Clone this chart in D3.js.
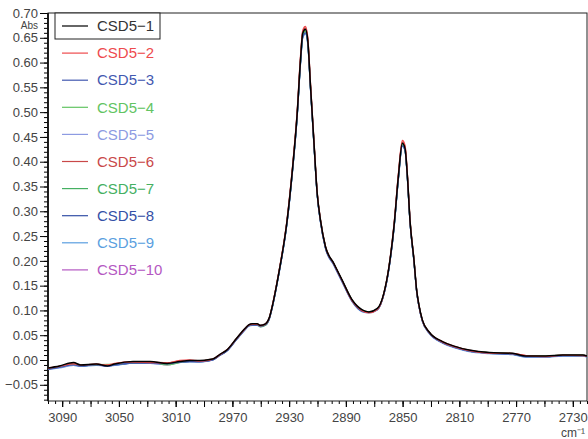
<!DOCTYPE html>
<html>
<head>
<meta charset="utf-8">
<script src="https://cdnjs.cloudflare.com/ajax/libs/d3/7.8.5/d3.min.js"></script>
<style>
  body { margin: 0; background: #fff; }
  text { font-family: "Liberation Sans", Arial, sans-serif; }
</style>
</head>
<body>
<svg id="chart" width="588" height="439"></svg>
<script>
// wavenumbers (cm-1), descending
const wavenumbers = [3100,3092,3082,3077,3066,3058,3053,3040,3028,3016,3007,3000,2993,2986,2983,2979,2974,2967,2961,2958.5,2956,2952.5,2950.3,2946.7,2944,2942,2940,2937.3,2931.4,2927.9,2924.3,2922,2920.4,2918.5,2916.9,2914.9,2912.6,2910.2,2907.9,2904.4,2898.5,2892.6,2885.5,2878.4,2873.8,2867.8,2863.2,2859.6,2856.1,2853,2850.2,2848.3,2846.6,2844.8,2842,2840.1,2838.5,2836.1,2831.4,2821.9,2812.5,2803.1,2789,2772.5,2763,2749,2737,2723,2720];

const csd1 = [-0.016,-0.012,-0.005,-0.010,-0.008,-0.012,-0.008,-0.003,-0.003,-0.007,-0.003,-0.001,-0.001,0.001,0.003,0.011,0.020,0.044,0.064,0.071,0.073,0.073,0.070,0.073,0.085,0.107,0.134,0.175,0.282,0.377,0.498,0.605,0.659,0.667,0.646,0.551,0.444,0.336,0.282,0.229,0.195,0.161,0.121,0.101,0.097,0.104,0.135,0.188,0.269,0.370,0.437,0.427,0.370,0.282,0.202,0.141,0.111,0.081,0.057,0.037,0.027,0.020,0.015,0.0135,0.008,0.008,0.010,0.010,0.008];
const csd2 = [-0.017,-0.013,-0.008,-0.010,-0.009,-0.010,-0.007,-0.004,-0.005,-0.006,-0.001,0.000,-0.002,0.000,0.003,0.010,0.020,0.043,0.063,0.070,0.072,0.072,0.069,0.072,0.085,0.108,0.135,0.177,0.285,0.381,0.503,0.612,0.665,0.673,0.652,0.556,0.447,0.338,0.283,0.229,0.194,0.160,0.119,0.099,0.095,0.102,0.134,0.189,0.272,0.375,0.443,0.433,0.374,0.284,0.203,0.141,0.110,0.080,0.056,0.036,0.026,0.019,0.014,0.013,0.009,0.007,0.010,0.009,0.008];
const csd3 = [-0.019,-0.015,-0.010,-0.012,-0.010,-0.012,-0.010,-0.006,-0.006,-0.008,-0.004,-0.003,-0.003,-0.001,0.001,0.009,0.018,0.042,0.062,0.069,0.071,0.071,0.068,0.071,0.083,0.105,0.132,0.173,0.279,0.373,0.493,0.598,0.651,0.660,0.640,0.546,0.440,0.333,0.279,0.226,0.192,0.158,0.118,0.098,0.096,0.102,0.133,0.185,0.265,0.365,0.432,0.423,0.366,0.279,0.199,0.139,0.109,0.079,0.055,0.035,0.025,0.018,0.014,0.012,0.007,0.007,0.009,0.009,0.007];
const csd4 = [-0.018,-0.014,-0.009,-0.011,-0.010,-0.009,-0.009,-0.005,-0.004,-0.010,-0.005,-0.002,-0.002,0.000,0.002,0.010,0.019,0.043,0.063,0.070,0.072,0.072,0.067,0.070,0.084,0.106,0.133,0.174,0.281,0.375,0.496,0.602,0.655,0.663,0.643,0.549,0.442,0.335,0.281,0.228,0.194,0.160,0.120,0.100,0.097,0.103,0.134,0.187,0.267,0.367,0.434,0.425,0.368,0.281,0.201,0.140,0.110,0.080,0.056,0.036,0.026,0.019,0.015,0.013,0.008,0.008,0.010,0.010,0.008];
const csd5 = [-0.018,-0.015,-0.011,-0.012,-0.009,-0.011,-0.010,-0.005,-0.006,-0.008,-0.004,-0.002,-0.003,0.000,0.002,0.010,0.019,0.043,0.063,0.070,0.072,0.072,0.069,0.072,0.084,0.106,0.133,0.174,0.280,0.374,0.494,0.600,0.653,0.661,0.641,0.548,0.441,0.334,0.280,0.227,0.193,0.159,0.119,0.099,0.096,0.102,0.133,0.186,0.266,0.366,0.433,0.424,0.367,0.280,0.200,0.139,0.109,0.079,0.055,0.035,0.025,0.018,0.014,0.012,0.007,0.007,0.009,0.009,0.007];
const csd6 = [-0.016,-0.013,-0.007,-0.011,-0.008,-0.011,-0.008,-0.004,-0.004,-0.006,-0.002,-0.001,-0.002,0.001,0.003,0.011,0.020,0.044,0.064,0.071,0.073,0.073,0.070,0.073,0.085,0.107,0.135,0.176,0.283,0.379,0.500,0.608,0.662,0.670,0.649,0.553,0.445,0.337,0.282,0.229,0.194,0.160,0.120,0.100,0.096,0.103,0.135,0.188,0.270,0.372,0.440,0.430,0.372,0.283,0.202,0.141,0.111,0.081,0.057,0.037,0.027,0.020,0.015,0.0135,0.009,0.008,0.010,0.010,0.008];
const csd7 = [-0.017,-0.014,-0.009,-0.010,-0.009,-0.010,-0.009,-0.005,-0.005,-0.009,-0.004,-0.002,-0.002,0.000,0.002,0.010,0.019,0.043,0.063,0.070,0.072,0.072,0.068,0.071,0.084,0.106,0.134,0.175,0.281,0.376,0.497,0.603,0.656,0.664,0.644,0.550,0.443,0.335,0.281,0.228,0.194,0.160,0.120,0.100,0.097,0.103,0.134,0.187,0.268,0.368,0.435,0.426,0.369,0.281,0.201,0.140,0.110,0.080,0.056,0.036,0.026,0.019,0.015,0.012,0.008,0.008,0.010,0.009,0.008];
const csd8 = [-0.018,-0.014,-0.010,-0.012,-0.010,-0.012,-0.010,-0.006,-0.005,-0.008,-0.004,-0.003,-0.003,-0.001,0.001,0.009,0.018,0.042,0.062,0.069,0.071,0.071,0.068,0.071,0.083,0.105,0.132,0.173,0.279,0.374,0.494,0.600,0.653,0.662,0.642,0.548,0.441,0.334,0.280,0.227,0.193,0.159,0.119,0.099,0.096,0.102,0.133,0.186,0.266,0.366,0.434,0.424,0.367,0.280,0.200,0.139,0.109,0.079,0.055,0.035,0.025,0.018,0.014,0.012,0.007,0.007,0.009,0.009,0.007];
const csd9 = [-0.019,-0.016,-0.011,-0.013,-0.011,-0.012,-0.011,-0.006,-0.007,-0.009,-0.005,-0.003,-0.004,-0.001,0.001,0.009,0.018,0.041,0.061,0.068,0.070,0.070,0.067,0.070,0.082,0.104,0.131,0.172,0.278,0.372,0.492,0.597,0.650,0.658,0.638,0.545,0.439,0.332,0.278,0.225,0.191,0.157,0.117,0.097,0.095,0.101,0.132,0.184,0.264,0.364,0.431,0.422,0.365,0.278,0.198,0.138,0.108,0.078,0.054,0.034,0.024,0.017,0.013,0.011,0.006,0.006,0.008,0.008,0.006];
const csd10 = [-0.018,-0.014,-0.010,-0.011,-0.010,-0.013,-0.009,-0.005,-0.006,-0.010,-0.004,-0.002,-0.003,0.000,0.002,0.010,0.019,0.043,0.063,0.070,0.072,0.072,0.069,0.072,0.084,0.106,0.134,0.175,0.282,0.377,0.498,0.604,0.657,0.665,0.645,0.550,0.443,0.335,0.281,0.228,0.194,0.160,0.120,0.100,0.097,0.103,0.134,0.187,0.268,0.369,0.436,0.426,0.369,0.281,0.201,0.140,0.110,0.080,0.056,0.036,0.026,0.019,0.015,0.013,0.008,0.008,0.010,0.010,0.008];

const seriesNames = ["CSD5\u22121","CSD5\u22122","CSD5\u22123","CSD5\u22124","CSD5\u22125","CSD5\u22126","CSD5\u22127","CSD5\u22128","CSD5\u22129","CSD5\u221210"];
const seriesValues = [csd1, csd2, csd3, csd4, csd5, csd6, csd7, csd8, csd9, csd10];
const seriesColors = ["#000000","#ee4a4d","#4258b0","#62c462","#8d9be2","#c94848","#45b062","#3450a6","#5b9fe0","#b458c2"];

const yMajorTicks = [-0.05,0,0.05,0.10,0.15,0.20,0.25,0.30,0.35,0.40,0.45,0.50,0.55,0.60,0.65,0.70];
const xLabelTicks = [3090,3050,3010,2970,2930,2890,2850,2810,2770,2730];

const svg = d3.select("#chart"),
      m = {left: 48, top: 13, right: 587, bottom: 401};

const x = d3.scaleLinear().domain([3100, 2720]).range([m.left, m.right]),
      y = d3.scaleLinear().domain([-0.0827, 0.70]).range([m.bottom, m.top]);

const fmtY = v => (v < 0 ? "\u2212" : "") + Math.abs(v).toFixed(2);

svg.append("clipPath").attr("id", "clip")
  .append("rect")
  .attr("x", m.left).attr("y", m.top)
  .attr("width", m.right - m.left).attr("height", m.bottom - m.top);

// y axis: minor ticks every 0.01, majors every 0.05
const yMinor = d3.range(-8, 71).map(d => d / 100);
svg.append("g")
  .attr("transform", `translate(${m.left},0)`)
  .call(d3.axisLeft(y).tickValues(yMinor).tickSize(4).tickFormat(""))
  .call(g => g.select(".domain").remove());

svg.append("g")
  .attr("transform", `translate(${m.left},0)`)
  .call(d3.axisLeft(y).tickValues(yMajorTicks).tickSize(8).tickPadding(2).tickFormat(fmtY))
  .call(g => g.select(".domain").remove())
  .call(g => g.selectAll("text").attr("fill", "#444").style("font-size", "13px"));

// x axis: minor every 5, medium every 20, labels every 40
const xMinor = d3.range(2720, 3101, 5);
const xMid = d3.range(2730, 3101, 20);
svg.append("g")
  .attr("transform", `translate(0,${m.bottom})`)
  .call(d3.axisBottom(x).tickValues(xMinor).tickSize(3).tickFormat(""))
  .call(g => g.select(".domain").remove());

svg.append("g")
  .attr("transform", `translate(0,${m.bottom})`)
  .call(d3.axisBottom(x).tickValues(xMid).tickSize(6).tickFormat(""))
  .call(g => g.select(".domain").remove());

svg.append("g")
  .attr("transform", `translate(0,${m.bottom})`)
  .call(d3.axisBottom(x).tickValues(xLabelTicks).tickSize(6).tickPadding(6).tickFormat(d3.format("d")))
  .call(g => g.select(".domain").remove())
  .call(g => g.selectAll("text").attr("fill", "#444").style("font-size", "13px"));

// frame
svg.append("rect")
  .attr("x", m.left).attr("y", m.top)
  .attr("width", m.right - m.left).attr("height", m.bottom - m.top)
  .attr("fill", "none").attr("stroke", "#222").attr("stroke-width", 1);
svg.append("line")
  .attr("x1", m.left).attr("x2", m.left).attr("y1", m.top).attr("y2", m.bottom)
  .attr("stroke", "#111").attr("stroke-width", 1.8);

// spectra, black drawn last so it sits on top
const line = d3.line()
  .x((d, i) => x(wavenumbers[i]))
  .y(d => y(d))
  .curve(d3.curveMonotoneX);

const plot = svg.append("g").attr("clip-path", "url(#clip)");
for (let i = seriesValues.length - 1; i >= 0; i--) {
  plot.append("path")
    .attr("d", line(seriesValues[i]))
    .attr("fill", "none")
    .attr("stroke", seriesColors[i])
    .attr("stroke-width", i === 0 ? 1.5 : 1.3)
    .attr("stroke-linejoin", "round");
}

// legend
const legend = svg.append("g");
legend.append("rect")
  .attr("x", 55).attr("y", m.top)
  .attr("width", 105).attr("height", 26)
  .attr("fill", "#fff").attr("stroke", "#222");

const rows = legend.selectAll("g.row")
  .data(seriesNames)
  .enter()
  .append("g")
  .attr("class", "row")
  .attr("transform", (d, i) => `translate(0, ${26 + i * 27.1})`);

rows.append("line")
  .attr("x1", 62).attr("x2", 88)
  .attr("stroke", (d, i) => seriesColors[i])
  .attr("stroke-width", 1.2);

rows.append("text")
  .attr("x", 97)
  .attr("dy", "0.35em")
  .style("font-size", "15px")
  .attr("fill", (d, i) => i === 0 ? "#333" : seriesColors[i])
  .text(d => d);

// axis unit labels
svg.append("text")
  .attr("x", 38).attr("y", 28.5)
  .attr("text-anchor", "end")
  .style("font-size", "10px")
  .attr("fill", "#444")
  .text("Abs");

svg.append("text")
  .attr("x", 561).attr("y", 437)
  .style("font-size", "12px")
  .attr("fill", "#444")
  .text("cm\u207B\u00B9");
</script>
</body>
</html>
